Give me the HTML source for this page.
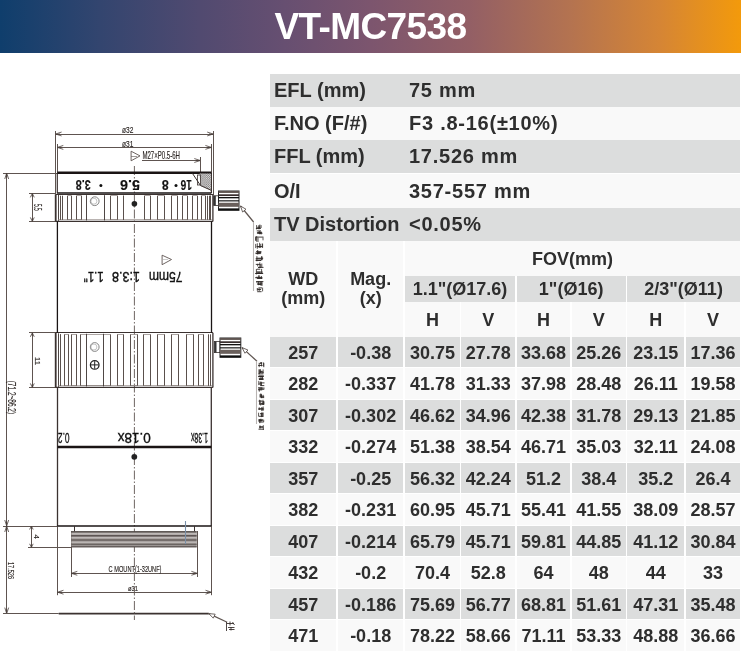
<!DOCTYPE html>
<html><head><meta charset="utf-8"><style>
html,body{margin:0;padding:0;background:#fff;width:742px;height:652px;overflow:hidden;position:relative}
body{font-family:"Liberation Sans",sans-serif;color:#2e2e2e;-webkit-font-smoothing:antialiased}
.wrap{position:absolute;left:0;top:0;width:742px;height:652px;will-change:transform}
.hd{position:absolute;left:0;top:0;width:741px;height:52.5px;background:linear-gradient(90deg,#0f3e6c 0%,#33456f 13.5%,#514a70 27%,#674f71 38.5%,#7c556e 50%,#935f65 63.4%,#b47350 77%,#d58535 89%,#f39a0b 100%)}
.title{position:absolute;left:274.5px;top:6px;font-weight:bold;font-size:37px;color:#fff;letter-spacing:-0.6px;white-space:nowrap}
.c{position:absolute;box-sizing:border-box;font-weight:bold;white-space:nowrap}
.t{text-align:center;font-size:18px;padding-top:1px}
.s{font-size:20px}
.s .k{position:absolute;left:4px}
.s .v{position:absolute;left:139px;letter-spacing:0.75px}
.hdr2{line-height:19.6px!important;padding-top:28.5px!important}
</style></head><body>
<div class="wrap"><div class="hd"></div><div class="title">VT-MC7538</div>
<div class="c s" style="left:270px;top:74px;width:470px;height:33px;background:#dcdddd;line-height:33px"><span class="k">EFL (mm)</span><span class="v">75 mm</span></div>
<div class="c s" style="left:270px;top:107px;width:470px;height:33.400000000000006px;background:#f9f9f9;line-height:33.400000000000006px"><span class="k">F.NO (F/#)</span><span class="v">F3 .8-16(±10%)</span></div>
<div class="c s" style="left:270px;top:140.4px;width:470px;height:33.099999999999994px;background:#dcdddd;line-height:33.099999999999994px"><span class="k">FFL (mm)</span><span class="v">17.526 mm</span></div>
<div class="c s" style="left:270px;top:173.5px;width:470px;height:34.5px;background:#f9f9f9;line-height:34.5px"><span class="k">O/I</span><span class="v">357-557 mm</span></div>
<div class="c s" style="left:270px;top:208px;width:470px;height:33.19999999999999px;background:#dcdddd;line-height:33.19999999999999px"><span class="k">TV Distortion</span><span class="v">&lt;0.05%</span></div>
<div class="c t hdr2" style="left:270px;top:241.2px;width:66.30000000000001px;height:95.69999999999999px;background:#f9f9f9;line-height:95.69999999999999px">WD<br>(mm)</div>
<div class="c t hdr2" style="left:337.9px;top:241.2px;width:65.5px;height:95.69999999999999px;background:#f9f9f9;line-height:95.69999999999999px">Mag.<br>(x)</div>
<div class="c t" style="left:405.0px;top:241.2px;width:335.0px;height:34.80000000000001px;background:#f9f9f9;line-height:34.80000000000001px">FOV(mm)</div>
<div class="c t" style="left:405.0px;top:276px;width:110.10000000000002px;height:25.5px;background:#dcdddd;line-height:25.5px">1.1"(Ø17.6)</div>
<div class="c t" style="left:516.7px;top:276px;width:108.89999999999998px;height:25.5px;background:#dcdddd;line-height:25.5px">1"(Ø16)</div>
<div class="c t" style="left:627.2px;top:276px;width:112.79999999999995px;height:25.5px;background:#dcdddd;line-height:25.5px">2/3"(Ø11)</div>
<div class="c t" style="left:405.0px;top:301.5px;width:54.80000000000001px;height:35.39999999999998px;background:#f9f9f9;line-height:35.39999999999998px">H</div>
<div class="c t" style="left:461.4px;top:301.5px;width:53.700000000000045px;height:35.39999999999998px;background:#f9f9f9;line-height:35.39999999999998px">V</div>
<div class="c t" style="left:516.7px;top:301.5px;width:53.5px;height:35.39999999999998px;background:#f9f9f9;line-height:35.39999999999998px">H</div>
<div class="c t" style="left:571.8px;top:301.5px;width:53.80000000000007px;height:35.39999999999998px;background:#f9f9f9;line-height:35.39999999999998px">V</div>
<div class="c t" style="left:627.2px;top:301.5px;width:57.09999999999991px;height:35.39999999999998px;background:#f9f9f9;line-height:35.39999999999998px">H</div>
<div class="c t" style="left:685.9px;top:301.5px;width:54.10000000000002px;height:35.39999999999998px;background:#f9f9f9;line-height:35.39999999999998px">V</div>
<div class="c t" style="left:270px;top:336.9px;width:66.30000000000001px;height:30.600000000000023px;background:#dcdddd;line-height:30.600000000000023px">257</div>
<div class="c t" style="left:337.9px;top:336.9px;width:65.5px;height:30.600000000000023px;background:#dcdddd;line-height:30.600000000000023px">-0.38</div>
<div class="c t" style="left:405.0px;top:336.9px;width:54.80000000000001px;height:30.600000000000023px;background:#dcdddd;line-height:30.600000000000023px">30.75</div>
<div class="c t" style="left:461.4px;top:336.9px;width:53.700000000000045px;height:30.600000000000023px;background:#dcdddd;line-height:30.600000000000023px">27.78</div>
<div class="c t" style="left:516.7px;top:336.9px;width:53.5px;height:30.600000000000023px;background:#dcdddd;line-height:30.600000000000023px">33.68</div>
<div class="c t" style="left:571.8px;top:336.9px;width:53.80000000000007px;height:30.600000000000023px;background:#dcdddd;line-height:30.600000000000023px">25.26</div>
<div class="c t" style="left:627.2px;top:336.9px;width:57.09999999999991px;height:30.600000000000023px;background:#dcdddd;line-height:30.600000000000023px">23.15</div>
<div class="c t" style="left:685.9px;top:336.9px;width:54.10000000000002px;height:30.600000000000023px;background:#dcdddd;line-height:30.600000000000023px">17.36</div>
<div class="c t" style="left:270px;top:368.38px;width:66.30000000000001px;height:30.600000000000023px;background:#f9f9f9;line-height:30.600000000000023px">282</div>
<div class="c t" style="left:337.9px;top:368.38px;width:65.5px;height:30.600000000000023px;background:#f9f9f9;line-height:30.600000000000023px">-0.337</div>
<div class="c t" style="left:405.0px;top:368.38px;width:54.80000000000001px;height:30.600000000000023px;background:#f9f9f9;line-height:30.600000000000023px">41.78</div>
<div class="c t" style="left:461.4px;top:368.38px;width:53.700000000000045px;height:30.600000000000023px;background:#f9f9f9;line-height:30.600000000000023px">31.33</div>
<div class="c t" style="left:516.7px;top:368.38px;width:53.5px;height:30.600000000000023px;background:#f9f9f9;line-height:30.600000000000023px">37.98</div>
<div class="c t" style="left:571.8px;top:368.38px;width:53.80000000000007px;height:30.600000000000023px;background:#f9f9f9;line-height:30.600000000000023px">28.48</div>
<div class="c t" style="left:627.2px;top:368.38px;width:57.09999999999991px;height:30.600000000000023px;background:#f9f9f9;line-height:30.600000000000023px">26.11</div>
<div class="c t" style="left:685.9px;top:368.38px;width:54.10000000000002px;height:30.600000000000023px;background:#f9f9f9;line-height:30.600000000000023px">19.58</div>
<div class="c t" style="left:270px;top:399.85px;width:66.30000000000001px;height:30.599999999999966px;background:#dcdddd;line-height:30.599999999999966px">307</div>
<div class="c t" style="left:337.9px;top:399.85px;width:65.5px;height:30.599999999999966px;background:#dcdddd;line-height:30.599999999999966px">-0.302</div>
<div class="c t" style="left:405.0px;top:399.85px;width:54.80000000000001px;height:30.599999999999966px;background:#dcdddd;line-height:30.599999999999966px">46.62</div>
<div class="c t" style="left:461.4px;top:399.85px;width:53.700000000000045px;height:30.599999999999966px;background:#dcdddd;line-height:30.599999999999966px">34.96</div>
<div class="c t" style="left:516.7px;top:399.85px;width:53.5px;height:30.599999999999966px;background:#dcdddd;line-height:30.599999999999966px">42.38</div>
<div class="c t" style="left:571.8px;top:399.85px;width:53.80000000000007px;height:30.599999999999966px;background:#dcdddd;line-height:30.599999999999966px">31.78</div>
<div class="c t" style="left:627.2px;top:399.85px;width:57.09999999999991px;height:30.599999999999966px;background:#dcdddd;line-height:30.599999999999966px">29.13</div>
<div class="c t" style="left:685.9px;top:399.85px;width:54.10000000000002px;height:30.599999999999966px;background:#dcdddd;line-height:30.599999999999966px">21.85</div>
<div class="c t" style="left:270px;top:431.32px;width:66.30000000000001px;height:30.610000000000014px;background:#f9f9f9;line-height:30.610000000000014px">332</div>
<div class="c t" style="left:337.9px;top:431.32px;width:65.5px;height:30.610000000000014px;background:#f9f9f9;line-height:30.610000000000014px">-0.274</div>
<div class="c t" style="left:405.0px;top:431.32px;width:54.80000000000001px;height:30.610000000000014px;background:#f9f9f9;line-height:30.610000000000014px">51.38</div>
<div class="c t" style="left:461.4px;top:431.32px;width:53.700000000000045px;height:30.610000000000014px;background:#f9f9f9;line-height:30.610000000000014px">38.54</div>
<div class="c t" style="left:516.7px;top:431.32px;width:53.5px;height:30.610000000000014px;background:#f9f9f9;line-height:30.610000000000014px">46.71</div>
<div class="c t" style="left:571.8px;top:431.32px;width:53.80000000000007px;height:30.610000000000014px;background:#f9f9f9;line-height:30.610000000000014px">35.03</div>
<div class="c t" style="left:627.2px;top:431.32px;width:57.09999999999991px;height:30.610000000000014px;background:#f9f9f9;line-height:30.610000000000014px">32.11</div>
<div class="c t" style="left:685.9px;top:431.32px;width:54.10000000000002px;height:30.610000000000014px;background:#f9f9f9;line-height:30.610000000000014px">24.08</div>
<div class="c t" style="left:270px;top:462.8px;width:66.30000000000001px;height:30.599999999999966px;background:#dcdddd;line-height:30.599999999999966px">357</div>
<div class="c t" style="left:337.9px;top:462.8px;width:65.5px;height:30.599999999999966px;background:#dcdddd;line-height:30.599999999999966px">-0.25</div>
<div class="c t" style="left:405.0px;top:462.8px;width:54.80000000000001px;height:30.599999999999966px;background:#dcdddd;line-height:30.599999999999966px">56.32</div>
<div class="c t" style="left:461.4px;top:462.8px;width:53.700000000000045px;height:30.599999999999966px;background:#dcdddd;line-height:30.599999999999966px">42.24</div>
<div class="c t" style="left:516.7px;top:462.8px;width:53.5px;height:30.599999999999966px;background:#dcdddd;line-height:30.599999999999966px">51.2</div>
<div class="c t" style="left:571.8px;top:462.8px;width:53.80000000000007px;height:30.599999999999966px;background:#dcdddd;line-height:30.599999999999966px">38.4</div>
<div class="c t" style="left:627.2px;top:462.8px;width:57.09999999999991px;height:30.599999999999966px;background:#dcdddd;line-height:30.599999999999966px">35.2</div>
<div class="c t" style="left:685.9px;top:462.8px;width:54.10000000000002px;height:30.599999999999966px;background:#dcdddd;line-height:30.599999999999966px">26.4</div>
<div class="c t" style="left:270px;top:494.27px;width:66.30000000000001px;height:30.610000000000014px;background:#f9f9f9;line-height:30.610000000000014px">382</div>
<div class="c t" style="left:337.9px;top:494.27px;width:65.5px;height:30.610000000000014px;background:#f9f9f9;line-height:30.610000000000014px">-0.231</div>
<div class="c t" style="left:405.0px;top:494.27px;width:54.80000000000001px;height:30.610000000000014px;background:#f9f9f9;line-height:30.610000000000014px">60.95</div>
<div class="c t" style="left:461.4px;top:494.27px;width:53.700000000000045px;height:30.610000000000014px;background:#f9f9f9;line-height:30.610000000000014px">45.71</div>
<div class="c t" style="left:516.7px;top:494.27px;width:53.5px;height:30.610000000000014px;background:#f9f9f9;line-height:30.610000000000014px">55.41</div>
<div class="c t" style="left:571.8px;top:494.27px;width:53.80000000000007px;height:30.610000000000014px;background:#f9f9f9;line-height:30.610000000000014px">41.55</div>
<div class="c t" style="left:627.2px;top:494.27px;width:57.09999999999991px;height:30.610000000000014px;background:#f9f9f9;line-height:30.610000000000014px">38.09</div>
<div class="c t" style="left:685.9px;top:494.27px;width:54.10000000000002px;height:30.610000000000014px;background:#f9f9f9;line-height:30.610000000000014px">28.57</div>
<div class="c t" style="left:270px;top:525.75px;width:66.30000000000001px;height:30.600000000000023px;background:#dcdddd;line-height:30.600000000000023px">407</div>
<div class="c t" style="left:337.9px;top:525.75px;width:65.5px;height:30.600000000000023px;background:#dcdddd;line-height:30.600000000000023px">-0.214</div>
<div class="c t" style="left:405.0px;top:525.75px;width:54.80000000000001px;height:30.600000000000023px;background:#dcdddd;line-height:30.600000000000023px">65.79</div>
<div class="c t" style="left:461.4px;top:525.75px;width:53.700000000000045px;height:30.600000000000023px;background:#dcdddd;line-height:30.600000000000023px">45.71</div>
<div class="c t" style="left:516.7px;top:525.75px;width:53.5px;height:30.600000000000023px;background:#dcdddd;line-height:30.600000000000023px">59.81</div>
<div class="c t" style="left:571.8px;top:525.75px;width:53.80000000000007px;height:30.600000000000023px;background:#dcdddd;line-height:30.600000000000023px">44.85</div>
<div class="c t" style="left:627.2px;top:525.75px;width:57.09999999999991px;height:30.600000000000023px;background:#dcdddd;line-height:30.600000000000023px">41.12</div>
<div class="c t" style="left:685.9px;top:525.75px;width:54.10000000000002px;height:30.600000000000023px;background:#dcdddd;line-height:30.600000000000023px">30.84</div>
<div class="c t" style="left:270px;top:557.23px;width:66.30000000000001px;height:30.600000000000023px;background:#f9f9f9;line-height:30.600000000000023px">432</div>
<div class="c t" style="left:337.9px;top:557.23px;width:65.5px;height:30.600000000000023px;background:#f9f9f9;line-height:30.600000000000023px">-0.2</div>
<div class="c t" style="left:405.0px;top:557.23px;width:54.80000000000001px;height:30.600000000000023px;background:#f9f9f9;line-height:30.600000000000023px">70.4</div>
<div class="c t" style="left:461.4px;top:557.23px;width:53.700000000000045px;height:30.600000000000023px;background:#f9f9f9;line-height:30.600000000000023px">52.8</div>
<div class="c t" style="left:516.7px;top:557.23px;width:53.5px;height:30.600000000000023px;background:#f9f9f9;line-height:30.600000000000023px">64</div>
<div class="c t" style="left:571.8px;top:557.23px;width:53.80000000000007px;height:30.600000000000023px;background:#f9f9f9;line-height:30.600000000000023px">48</div>
<div class="c t" style="left:627.2px;top:557.23px;width:57.09999999999991px;height:30.600000000000023px;background:#f9f9f9;line-height:30.600000000000023px">44</div>
<div class="c t" style="left:685.9px;top:557.23px;width:54.10000000000002px;height:30.600000000000023px;background:#f9f9f9;line-height:30.600000000000023px">33</div>
<div class="c t" style="left:270px;top:588.7px;width:66.30000000000001px;height:30.59999999999991px;background:#dcdddd;line-height:30.59999999999991px">457</div>
<div class="c t" style="left:337.9px;top:588.7px;width:65.5px;height:30.59999999999991px;background:#dcdddd;line-height:30.59999999999991px">-0.186</div>
<div class="c t" style="left:405.0px;top:588.7px;width:54.80000000000001px;height:30.59999999999991px;background:#dcdddd;line-height:30.59999999999991px">75.69</div>
<div class="c t" style="left:461.4px;top:588.7px;width:53.700000000000045px;height:30.59999999999991px;background:#dcdddd;line-height:30.59999999999991px">56.77</div>
<div class="c t" style="left:516.7px;top:588.7px;width:53.5px;height:30.59999999999991px;background:#dcdddd;line-height:30.59999999999991px">68.81</div>
<div class="c t" style="left:571.8px;top:588.7px;width:53.80000000000007px;height:30.59999999999991px;background:#dcdddd;line-height:30.59999999999991px">51.61</div>
<div class="c t" style="left:627.2px;top:588.7px;width:57.09999999999991px;height:30.59999999999991px;background:#dcdddd;line-height:30.59999999999991px">47.31</div>
<div class="c t" style="left:685.9px;top:588.7px;width:54.10000000000002px;height:30.59999999999991px;background:#dcdddd;line-height:30.59999999999991px">35.48</div>
<div class="c t" style="left:270px;top:620.17px;width:66.30000000000001px;height:30.600000000000023px;background:#f9f9f9;line-height:30.600000000000023px">471</div>
<div class="c t" style="left:337.9px;top:620.17px;width:65.5px;height:30.600000000000023px;background:#f9f9f9;line-height:30.600000000000023px">-0.18</div>
<div class="c t" style="left:405.0px;top:620.17px;width:54.80000000000001px;height:30.600000000000023px;background:#f9f9f9;line-height:30.600000000000023px">78.22</div>
<div class="c t" style="left:461.4px;top:620.17px;width:53.700000000000045px;height:30.600000000000023px;background:#f9f9f9;line-height:30.600000000000023px">58.66</div>
<div class="c t" style="left:516.7px;top:620.17px;width:53.5px;height:30.600000000000023px;background:#f9f9f9;line-height:30.600000000000023px">71.11</div>
<div class="c t" style="left:571.8px;top:620.17px;width:53.80000000000007px;height:30.600000000000023px;background:#f9f9f9;line-height:30.600000000000023px">53.33</div>
<div class="c t" style="left:627.2px;top:620.17px;width:57.09999999999991px;height:30.600000000000023px;background:#f9f9f9;line-height:30.600000000000023px">48.88</div>
<div class="c t" style="left:685.9px;top:620.17px;width:54.10000000000002px;height:30.600000000000023px;background:#f9f9f9;line-height:30.600000000000023px">36.66</div>
<svg style="position:absolute;left:0;top:0" width="270" height="652" viewBox="0 0 270 652"><line x1="55.5" y1="131" x2="55.5" y2="194" stroke="#5e5450" stroke-width="1" /><line x1="213.5" y1="131" x2="213.5" y2="195" stroke="#5e5450" stroke-width="1" /><line x1="55.6" y1="134.5" x2="213.2" y2="134.5" stroke="#5e5450" stroke-width="1" /><polyline points="61.60,132.05 55.6,134 61.60,135.95" fill="none" stroke="#4a403c" stroke-width="0.8"/><polygon points="59.80,133.40 55.6,134 59.80,134.60" fill="#4a403c"/><polyline points="207.20,135.95 213.2,134 207.20,132.05" fill="none" stroke="#4a403c" stroke-width="0.8"/><polygon points="209.00,134.60 213.2,134 209.00,133.40" fill="#4a403c"/><text x="127.65" y="133.00" font-family="Liberation Sans" font-size="9.08" font-weight="normal" fill="#2a2422" text-anchor="middle" textLength="11.30" lengthAdjust="spacingAndGlyphs" stroke="#2a2422" stroke-width="0.15">ø32</text><line x1="57.5" y1="144" x2="57.5" y2="173" stroke="#5e5450" stroke-width="1" /><line x1="211.5" y1="144" x2="211.5" y2="173" stroke="#5e5450" stroke-width="1" /><line x1="57.3" y1="147.5" x2="211.4" y2="147.5" stroke="#5e5450" stroke-width="1" /><polyline points="63.30,145.45 57.3,147.4 63.30,149.35" fill="none" stroke="#4a403c" stroke-width="0.8"/><polygon points="61.50,146.80 57.3,147.4 61.50,148.00" fill="#4a403c"/><polyline points="205.40,149.35 211.4,147.4 205.40,145.45" fill="none" stroke="#4a403c" stroke-width="0.8"/><polygon points="207.20,148.00 211.4,147.4 207.20,146.80" fill="#4a403c"/><text x="127.65" y="146.70" font-family="Liberation Sans" font-size="8.24" font-weight="normal" fill="#2a2422" text-anchor="middle" textLength="11.30" lengthAdjust="spacingAndGlyphs" stroke="#2a2422" stroke-width="0.15">ø31</text><polygon points="131.1,151.2 131.1,160.8 140,155.9" fill="none" stroke="#5e5450" stroke-width="0.9"/><line x1="131.1" y1="156.5" x2="137" y2="156.5" stroke="#5e5450" stroke-width="0.6" /><text x="161.20" y="159.30" font-family="Liberation Sans" font-size="10.75" font-weight="normal" fill="#2a2422" text-anchor="middle" textLength="37.60" lengthAdjust="spacingAndGlyphs" stroke="#2a2422" stroke-width="0.15">M27×P0.5-6H</text><line x1="142" y1="160.5" x2="200.3" y2="160.5" stroke="#5e5450" stroke-width="1" /><polyline points="194.30,162.45 200.3,160.5 194.30,158.55" fill="none" stroke="#4a403c" stroke-width="0.8"/><polygon points="196.10,161.10 200.3,160.5 196.10,159.90" fill="#4a403c"/><line x1="200.5" y1="157" x2="200.5" y2="173" stroke="#5e5450" stroke-width="1" /><line x1="3" y1="173.5" x2="57" y2="173.5" stroke="#5e5450" stroke-width="1" /><line x1="3" y1="526.5" x2="57" y2="526.5" stroke="#5e5450" stroke-width="1" /><line x1="6.5" y1="173" x2="6.5" y2="613.6" stroke="#5e5450" stroke-width="1" /><polyline points="8.65,179.00 6.7,173 4.75,179.00" fill="none" stroke="#4a403c" stroke-width="0.8"/><polygon points="7.30,177.20 6.7,173 6.10,177.20" fill="#4a403c"/><polyline points="4.75,520.00 6.7,526 8.65,520.00" fill="none" stroke="#4a403c" stroke-width="0.8"/><polygon points="6.10,521.80 6.7,526 7.30,521.80" fill="#4a403c"/><polyline points="8.65,532.00 6.7,526 4.75,532.00" fill="none" stroke="#4a403c" stroke-width="0.8"/><polygon points="7.30,530.20 6.7,526 6.10,530.20" fill="#4a403c"/><polyline points="4.75,607.60 6.7,613.6 8.65,607.60" fill="none" stroke="#4a403c" stroke-width="0.8"/><polygon points="6.10,609.40 6.7,613.6 7.30,609.40" fill="#4a403c"/><text x="11.85" y="401.25" font-family="Liberation Sans" font-size="10.75" font-weight="normal" fill="#2a2422" text-anchor="middle" textLength="33.40" lengthAdjust="spacingAndGlyphs" transform="rotate(90 11.85 397.40)" stroke="#2a2422" stroke-width="0.15">(71.2~86.2)</text><text x="11.40" y="574.00" font-family="Liberation Sans" font-size="9.78" font-weight="normal" fill="#2a2422" text-anchor="middle" textLength="17.00" lengthAdjust="spacingAndGlyphs" transform="rotate(90 11.40 570.50)" stroke="#2a2422" stroke-width="0.15">17.526</text><line x1="29" y1="193.5" x2="56" y2="193.5" stroke="#5e5450" stroke-width="1" /><line x1="29" y1="221.5" x2="56" y2="221.5" stroke="#5e5450" stroke-width="1" /><line x1="32.5" y1="193.4" x2="32.5" y2="221.4" stroke="#5e5450" stroke-width="1" /><polyline points="34.25,197.40 32.3,193.4 30.35,197.40" fill="none" stroke="#4a403c" stroke-width="0.8"/><polygon points="32.90,196.20 32.3,193.4 31.70,196.20" fill="#4a403c"/><polyline points="30.35,217.40 32.3,221.4 34.25,217.40" fill="none" stroke="#4a403c" stroke-width="0.8"/><polygon points="31.70,218.60 32.3,221.4 32.90,218.60" fill="#4a403c"/><text x="37.20" y="210.95" font-family="Liberation Sans" font-size="10.06" font-weight="normal" fill="#2a2422" text-anchor="middle" textLength="6.70" lengthAdjust="spacingAndGlyphs" transform="rotate(90 37.20 207.35)" stroke="#2a2422" stroke-width="0.15">5.5</text><line x1="29" y1="332.5" x2="56" y2="332.5" stroke="#5e5450" stroke-width="1" /><line x1="29" y1="387.5" x2="56" y2="387.5" stroke="#5e5450" stroke-width="1" /><line x1="32.5" y1="332.8" x2="32.5" y2="387.4" stroke="#5e5450" stroke-width="1" /><polyline points="34.25,336.80 32.3,332.8 30.35,336.80" fill="none" stroke="#4a403c" stroke-width="0.8"/><polygon points="32.90,335.60 32.3,332.8 31.70,335.60" fill="#4a403c"/><polyline points="30.35,383.40 32.3,387.4 34.25,383.40" fill="none" stroke="#4a403c" stroke-width="0.8"/><polygon points="31.70,384.60 32.3,387.4 32.90,384.60" fill="#4a403c"/><text x="37.25" y="363.75" font-family="Liberation Sans" font-size="7.68" font-weight="normal" fill="#2a2422" text-anchor="middle" textLength="8.00" lengthAdjust="spacingAndGlyphs" transform="rotate(90 37.25 361.00)" stroke="#2a2422" stroke-width="0.15">11</text><line x1="28" y1="547.5" x2="72" y2="547.5" stroke="#5e5450" stroke-width="1" /><line x1="31.5" y1="526" x2="31.5" y2="547.3" stroke="#5e5450" stroke-width="1" /><polyline points="33.20,529.50 31.4,526 29.60,529.50" fill="none" stroke="#4a403c" stroke-width="0.8"/><polygon points="32.00,528.45 31.4,526 30.80,528.45" fill="#4a403c"/><polyline points="29.60,543.80 31.4,547.3 33.20,543.80" fill="none" stroke="#4a403c" stroke-width="0.8"/><polygon points="30.80,544.85 31.4,547.3 32.00,544.85" fill="#4a403c"/><text x="36.25" y="539.00" font-family="Liberation Sans" font-size="6.28" font-weight="normal" fill="#2a2422" text-anchor="middle" textLength="4.50" lengthAdjust="spacingAndGlyphs" transform="rotate(90 36.25 536.75)" stroke="#2a2422" stroke-width="0.15">4</text><line x1="71.5" y1="531" x2="71.5" y2="577" stroke="#5e5450" stroke-width="1" /><line x1="197.5" y1="531" x2="197.5" y2="577" stroke="#5e5450" stroke-width="1" /><line x1="71.3" y1="573.5" x2="197.4" y2="573.5" stroke="#5e5450" stroke-width="1" /><polyline points="77.30,571.35 71.3,573.3 77.30,575.25" fill="none" stroke="#4a403c" stroke-width="0.8"/><polygon points="75.50,572.70 71.3,573.3 75.50,573.90" fill="#4a403c"/><polyline points="191.40,575.25 197.4,573.3 191.40,571.35" fill="none" stroke="#4a403c" stroke-width="0.8"/><polygon points="193.20,573.90 197.4,573.3 193.20,572.70" fill="#4a403c"/><text x="135.05" y="572.40" font-family="Liberation Sans" font-size="9.78" font-weight="normal" fill="#2a2422" text-anchor="middle" textLength="52.90" lengthAdjust="spacingAndGlyphs" stroke="#2a2422" stroke-width="0.15">C MOUNT(1-32UNF)</text><line x1="57.5" y1="526" x2="57.5" y2="595.2" stroke="#5e5450" stroke-width="1" /><line x1="211.5" y1="526" x2="211.5" y2="595.2" stroke="#5e5450" stroke-width="1" /><line x1="57.5" y1="592.5" x2="211.5" y2="592.5" stroke="#5e5450" stroke-width="1" /><polyline points="63.50,590.25 57.5,592.2 63.50,594.15" fill="none" stroke="#4a403c" stroke-width="0.8"/><polygon points="61.70,591.60 57.5,592.2 61.70,592.80" fill="#4a403c"/><polyline points="205.50,594.15 211.5,592.2 205.50,590.25" fill="none" stroke="#4a403c" stroke-width="0.8"/><polygon points="207.30,592.80 211.5,592.2 207.30,591.60" fill="#4a403c"/><text x="133.00" y="590.80" font-family="Liberation Sans" font-size="7.82" font-weight="normal" fill="#2a2422" text-anchor="middle" textLength="10.00" lengthAdjust="spacingAndGlyphs" stroke="#2a2422" stroke-width="0.15">ø31</text><line x1="3" y1="613.5" x2="58.7" y2="613.5" stroke="#5e5450" stroke-width="1" /><line x1="58.7" y1="613.6" x2="208.8" y2="613.6" stroke="#3b3230" stroke-width="1.8" /><line x1="208.8" y1="613.6" x2="227.2" y2="622.3" stroke="#5e5450" stroke-width="1.2" /><polygon points="215.16,614.19 208.8,613.6 213.27,618.17" fill="#fff" stroke="#4a403c" stroke-width="0.8"/><path d="M226.5,622 V631 M227,623.5 H234 M230,621.5 V625.5 M232.5,622 L234.5,625 M228,627.5 H234.5 M229,629.5 H234.5 M231,627 V630.5" stroke="#3a3230" stroke-width="0.9" fill="none"/><line x1="134.4" y1="166" x2="134.4" y2="620" stroke="#5e5450" stroke-width="0.9" stroke-dasharray="9 2 1.5 2"/><line x1="57.3" y1="173" x2="57.3" y2="193.5" stroke="#3b3230" stroke-width="1.2" /><line x1="211.4" y1="173" x2="211.4" y2="193" stroke="#3b3230" stroke-width="1.2" /><line x1="57.3" y1="172.8" x2="211.4" y2="172.8" stroke="#1a1414" stroke-width="2.4" /><line x1="57.3" y1="193" x2="211.4" y2="193" stroke="#1a1414" stroke-width="1.6" /><defs><pattern id="hatch" width="2.2" height="2.2" patternUnits="userSpaceOnUse"><rect width="2.2" height="2.2" fill="#e8e4e4"/><rect width="1.1" height="1.1" fill="#777"/><rect x="1.1" y="1.1" width="1.1" height="1.1" fill="#777"/></pattern></defs><polygon points="199.5,173.5 211,173.5 211,190.5 200.5,186" fill="url(#hatch)"/><polyline points="192.5,173.5 200.5,185.5 211,190.2" fill="none" stroke="#3b3230" stroke-width="1"/><rect x="197.5" y="175" width="3" height="10" fill="none" stroke="#3b3230" stroke-width="0.8"/><text x="83.25" y="190.70" font-family="Liberation Sans" font-size="14.94" font-weight="bold" fill="#111" text-anchor="middle" textLength="15.10" lengthAdjust="spacingAndGlyphs" transform="rotate(180 83.25 185.35)" stroke="#2a2422" stroke-width="0.15">3.8</text><text x="129.95" y="190.70" font-family="Liberation Sans" font-size="14.94" font-weight="bold" fill="#111" text-anchor="middle" textLength="20.10" lengthAdjust="spacingAndGlyphs" transform="rotate(180 129.95 185.35)" stroke="#2a2422" stroke-width="0.15">5.6</text><text x="165.25" y="190.70" font-family="Liberation Sans" font-size="14.94" font-weight="bold" fill="#111" text-anchor="middle" textLength="6.90" lengthAdjust="spacingAndGlyphs" transform="rotate(180 165.25 185.35)" stroke="#2a2422" stroke-width="0.15">8</text><text x="186.30" y="190.70" font-family="Liberation Sans" font-size="14.94" font-weight="bold" fill="#111" text-anchor="middle" textLength="11.40" lengthAdjust="spacingAndGlyphs" transform="rotate(180 186.30 185.35)" stroke="#2a2422" stroke-width="0.15">16</text><circle cx="100.9" cy="185.6" r="1.5" fill="#111"/><circle cx="176" cy="185.6" r="1.5" fill="#111"/><line x1="55.7" y1="194.2" x2="55.7" y2="221.4" stroke="#3b3230" stroke-width="1.8" /><line x1="58.5" y1="194.7" x2="58.5" y2="220.9" stroke="#3b3230" stroke-width="0.9" /><line x1="212.9" y1="194.2" x2="212.9" y2="221.4" stroke="#3b3230" stroke-width="1.3" /><line x1="55.7" y1="194.5" x2="212.9" y2="194.5" stroke="#3b3230" stroke-width="1.1" /><line x1="55.7" y1="221.4" x2="212.9" y2="221.4" stroke="#3b3230" stroke-width="1.4" /><line x1="58" y1="219.5" x2="212" y2="219.5" stroke="#8a807c" stroke-width="0.6" /><line x1="60.5" y1="195.7" x2="60.5" y2="219.9" stroke="#5a504c" stroke-width="1" /><line x1="62.5" y1="195.7" x2="62.5" y2="219.9" stroke="#5a504c" stroke-width="1" /><line x1="67.5" y1="195.7" x2="67.5" y2="219.9" stroke="#5a504c" stroke-width="1" /><line x1="71.5" y1="195.7" x2="71.5" y2="219.9" stroke="#5a504c" stroke-width="1" /><line x1="67.5" y1="195.5" x2="71.5" y2="195.5" stroke="#8a807c" stroke-width="0.7" /><line x1="67.5" y1="219.5" x2="71.5" y2="219.5" stroke="#8a807c" stroke-width="0.7" /><line x1="76.5" y1="195.7" x2="76.5" y2="219.9" stroke="#5a504c" stroke-width="1" /><line x1="81.5" y1="195.7" x2="81.5" y2="219.9" stroke="#5a504c" stroke-width="1" /><line x1="76.5" y1="195.5" x2="81.5" y2="195.5" stroke="#8a807c" stroke-width="0.7" /><line x1="76.5" y1="219.5" x2="81.5" y2="219.5" stroke="#8a807c" stroke-width="0.7" /><line x1="110.5" y1="195.7" x2="110.5" y2="219.9" stroke="#5a504c" stroke-width="1" /><line x1="117.5" y1="195.7" x2="117.5" y2="219.9" stroke="#5a504c" stroke-width="1" /><line x1="110.5" y1="195.5" x2="117.5" y2="195.5" stroke="#8a807c" stroke-width="0.7" /><line x1="110.5" y1="219.5" x2="117.5" y2="219.5" stroke="#8a807c" stroke-width="0.7" /><line x1="123.5" y1="195.7" x2="123.5" y2="219.9" stroke="#5a504c" stroke-width="1" /><line x1="123.5" y1="195.7" x2="123.5" y2="219.9" stroke="#5a504c" stroke-width="1" /><line x1="144.5" y1="195.7" x2="144.5" y2="219.9" stroke="#5a504c" stroke-width="1" /><line x1="150.5" y1="195.7" x2="150.5" y2="219.9" stroke="#5a504c" stroke-width="1" /><line x1="144.5" y1="195.5" x2="150.5" y2="195.5" stroke="#8a807c" stroke-width="0.7" /><line x1="144.5" y1="219.5" x2="150.5" y2="219.5" stroke="#8a807c" stroke-width="0.7" /><line x1="157.5" y1="195.7" x2="157.5" y2="219.9" stroke="#5a504c" stroke-width="1" /><line x1="164.5" y1="195.7" x2="164.5" y2="219.9" stroke="#5a504c" stroke-width="1" /><line x1="157.5" y1="195.5" x2="164.5" y2="195.5" stroke="#8a807c" stroke-width="0.7" /><line x1="157.5" y1="219.5" x2="164.5" y2="219.5" stroke="#8a807c" stroke-width="0.7" /><line x1="171.5" y1="195.7" x2="171.5" y2="219.9" stroke="#5a504c" stroke-width="1" /><line x1="177.5" y1="195.7" x2="177.5" y2="219.9" stroke="#5a504c" stroke-width="1" /><line x1="171.5" y1="195.5" x2="177.5" y2="195.5" stroke="#8a807c" stroke-width="0.7" /><line x1="171.5" y1="219.5" x2="177.5" y2="219.5" stroke="#8a807c" stroke-width="0.7" /><line x1="182.5" y1="195.7" x2="182.5" y2="219.9" stroke="#5a504c" stroke-width="1" /><line x1="187.5" y1="195.7" x2="187.5" y2="219.9" stroke="#5a504c" stroke-width="1" /><line x1="182.5" y1="195.5" x2="187.5" y2="195.5" stroke="#8a807c" stroke-width="0.7" /><line x1="182.5" y1="219.5" x2="187.5" y2="219.5" stroke="#8a807c" stroke-width="0.7" /><line x1="192.5" y1="195.7" x2="192.5" y2="219.9" stroke="#5a504c" stroke-width="1" /><line x1="197.5" y1="195.7" x2="197.5" y2="219.9" stroke="#5a504c" stroke-width="1" /><line x1="192.5" y1="195.5" x2="197.5" y2="195.5" stroke="#8a807c" stroke-width="0.7" /><line x1="192.5" y1="219.5" x2="197.5" y2="219.5" stroke="#8a807c" stroke-width="0.7" /><line x1="201.5" y1="195.7" x2="201.5" y2="219.9" stroke="#5a504c" stroke-width="1" /><line x1="205.5" y1="195.7" x2="205.5" y2="219.9" stroke="#5a504c" stroke-width="1" /><line x1="201.5" y1="195.5" x2="205.5" y2="195.5" stroke="#8a807c" stroke-width="0.7" /><line x1="201.5" y1="219.5" x2="205.5" y2="219.5" stroke="#8a807c" stroke-width="0.7" /><line x1="207.5" y1="195.7" x2="207.5" y2="219.9" stroke="#5a504c" stroke-width="1" /><line x1="209.5" y1="195.7" x2="209.5" y2="219.9" stroke="#5a504c" stroke-width="1" /><line x1="210.5" y1="195.7" x2="210.5" y2="219.9" stroke="#5a504c" stroke-width="1" /><line x1="210.5" y1="195.7" x2="210.5" y2="219.9" stroke="#5a504c" stroke-width="1" /><line x1="86.5" y1="195.2" x2="86.5" y2="220.4" stroke="#3b3230" stroke-width="0.9" /><line x1="104.5" y1="195.2" x2="104.5" y2="220.4" stroke="#3b3230" stroke-width="0.9" /><line x1="55.7" y1="332.8" x2="55.7" y2="387.4" stroke="#3b3230" stroke-width="1.8" /><line x1="58.5" y1="333.3" x2="58.5" y2="386.9" stroke="#3b3230" stroke-width="0.9" /><line x1="212.9" y1="332.8" x2="212.9" y2="387.4" stroke="#3b3230" stroke-width="1.3" /><line x1="55.7" y1="332.5" x2="212.9" y2="332.5" stroke="#3b3230" stroke-width="1.1" /><line x1="55.7" y1="387.4" x2="212.9" y2="387.4" stroke="#3b3230" stroke-width="1.4" /><line x1="58" y1="385.5" x2="212" y2="385.5" stroke="#8a807c" stroke-width="0.6" /><line x1="208.5" y1="334.3" x2="208.5" y2="385.9" stroke="#5a504c" stroke-width="1" /><line x1="210.5" y1="334.3" x2="210.5" y2="385.9" stroke="#5a504c" stroke-width="1" /><line x1="198.5" y1="334.3" x2="198.5" y2="385.9" stroke="#5a504c" stroke-width="1" /><line x1="203.5" y1="334.3" x2="203.5" y2="385.9" stroke="#5a504c" stroke-width="1" /><line x1="198.5" y1="334.5" x2="203.5" y2="334.5" stroke="#8a807c" stroke-width="0.7" /><line x1="198.5" y1="385.5" x2="203.5" y2="385.5" stroke="#8a807c" stroke-width="0.7" /><line x1="186.5" y1="334.3" x2="186.5" y2="385.9" stroke="#5a504c" stroke-width="1" /><line x1="193.5" y1="334.3" x2="193.5" y2="385.9" stroke="#5a504c" stroke-width="1" /><line x1="186.5" y1="334.5" x2="193.5" y2="334.5" stroke="#8a807c" stroke-width="0.7" /><line x1="186.5" y1="385.5" x2="193.5" y2="385.5" stroke="#8a807c" stroke-width="0.7" /><line x1="171.5" y1="334.3" x2="171.5" y2="385.9" stroke="#5a504c" stroke-width="1" /><line x1="178.5" y1="334.3" x2="178.5" y2="385.9" stroke="#5a504c" stroke-width="1" /><line x1="171.5" y1="334.5" x2="178.5" y2="334.5" stroke="#8a807c" stroke-width="0.7" /><line x1="171.5" y1="385.5" x2="178.5" y2="385.5" stroke="#8a807c" stroke-width="0.7" /><line x1="157.5" y1="334.3" x2="157.5" y2="385.9" stroke="#5a504c" stroke-width="1" /><line x1="164.5" y1="334.3" x2="164.5" y2="385.9" stroke="#5a504c" stroke-width="1" /><line x1="157.5" y1="334.5" x2="164.5" y2="334.5" stroke="#8a807c" stroke-width="0.7" /><line x1="157.5" y1="385.5" x2="164.5" y2="385.5" stroke="#8a807c" stroke-width="0.7" /><line x1="143.5" y1="334.3" x2="143.5" y2="385.9" stroke="#5a504c" stroke-width="1" /><line x1="150.5" y1="334.3" x2="150.5" y2="385.9" stroke="#5a504c" stroke-width="1" /><line x1="143.5" y1="334.5" x2="150.5" y2="334.5" stroke="#8a807c" stroke-width="0.7" /><line x1="143.5" y1="385.5" x2="150.5" y2="385.5" stroke="#8a807c" stroke-width="0.7" /><line x1="130.5" y1="334.3" x2="130.5" y2="385.9" stroke="#5a504c" stroke-width="1" /><line x1="137.5" y1="334.3" x2="137.5" y2="385.9" stroke="#5a504c" stroke-width="1" /><line x1="130.5" y1="334.5" x2="137.5" y2="334.5" stroke="#8a807c" stroke-width="0.7" /><line x1="130.5" y1="385.5" x2="137.5" y2="385.5" stroke="#8a807c" stroke-width="0.7" /><line x1="117.5" y1="334.3" x2="117.5" y2="385.9" stroke="#5a504c" stroke-width="1" /><line x1="123.5" y1="334.3" x2="123.5" y2="385.9" stroke="#5a504c" stroke-width="1" /><line x1="117.5" y1="334.5" x2="123.5" y2="334.5" stroke="#8a807c" stroke-width="0.7" /><line x1="117.5" y1="385.5" x2="123.5" y2="385.5" stroke="#8a807c" stroke-width="0.7" /><line x1="80.5" y1="334.3" x2="80.5" y2="385.9" stroke="#5a504c" stroke-width="1" /><line x1="110.5" y1="334.3" x2="110.5" y2="385.9" stroke="#5a504c" stroke-width="1" /><line x1="80.5" y1="334.5" x2="110.5" y2="334.5" stroke="#8a807c" stroke-width="0.7" /><line x1="80.5" y1="385.5" x2="110.5" y2="385.5" stroke="#8a807c" stroke-width="0.7" /><line x1="71.5" y1="334.3" x2="71.5" y2="385.9" stroke="#5a504c" stroke-width="1" /><line x1="76.5" y1="334.3" x2="76.5" y2="385.9" stroke="#5a504c" stroke-width="1" /><line x1="71.5" y1="334.5" x2="76.5" y2="334.5" stroke="#8a807c" stroke-width="0.7" /><line x1="71.5" y1="385.5" x2="76.5" y2="385.5" stroke="#8a807c" stroke-width="0.7" /><line x1="64.5" y1="334.3" x2="64.5" y2="385.9" stroke="#5a504c" stroke-width="1" /><line x1="68.5" y1="334.3" x2="68.5" y2="385.9" stroke="#5a504c" stroke-width="1" /><line x1="64.5" y1="334.5" x2="68.5" y2="334.5" stroke="#8a807c" stroke-width="0.7" /><line x1="64.5" y1="385.5" x2="68.5" y2="385.5" stroke="#8a807c" stroke-width="0.7" /><line x1="60.5" y1="334.3" x2="60.5" y2="385.9" stroke="#5a504c" stroke-width="1" /><line x1="60.5" y1="334.3" x2="60.5" y2="385.9" stroke="#5a504c" stroke-width="1" /><line x1="86.5" y1="333.8" x2="86.5" y2="386.4" stroke="#3b3230" stroke-width="0.9" /><line x1="103.5" y1="333.8" x2="103.5" y2="386.4" stroke="#3b3230" stroke-width="0.9" /><circle cx="94.7" cy="201.2" r="4.4" fill="none" stroke="#777" stroke-width="0.9"/><circle cx="93.9" cy="201.2" r="3" fill="none" stroke="#aaa" stroke-width="0.7"/><circle cx="134.4" cy="203.7" r="2.8" fill="#222"/><circle cx="94.7" cy="347" r="4.4" fill="none" stroke="#777" stroke-width="0.9"/><circle cx="93.9" cy="347" r="3" fill="none" stroke="#aaa" stroke-width="0.7"/><circle cx="94.7" cy="364.9" r="4.3" fill="none" stroke="#222" stroke-width="1.3"/><line x1="91" y1="364.9" x2="98.4" y2="364.9" stroke="#222" stroke-width="1"/><line x1="94.7" y1="361.2" x2="94.7" y2="368.6" stroke="#222" stroke-width="1"/><rect x="213.6" y="195.8" width="4.900000000000006" height="9.699999999999989" fill="#fff" stroke="#3b3230" stroke-width="0.8"/><rect x="213.6" y="195.8" width="2.2" height="9.699999999999989" fill="#333"/><rect x="218.5" y="191" width="20.5" height="19.30000000000001" fill="#fff" stroke="#222" stroke-width="1"/><rect x="218.5" y="191.0" width="20.5" height="1.9300000000000013" fill="#5e5450"/><rect x="218.5" y="194.281" width="20.5" height="1.737000000000001" fill="#3a3030"/><rect x="218.5" y="196.983" width="20.5" height="1.3510000000000009" fill="#111"/><rect x="218.5" y="200.264" width="20.5" height="1.1580000000000017" fill="#111"/><rect x="218.5" y="202.773" width="20.5" height="4.053000000000002" fill="#6a605c"/><rect x="218.5" y="208.37" width="20.5" height="1.9300000000000006" fill="#111"/><rect x="214.3" y="341.5" width="5.699999999999989" height="11.100000000000023" fill="#fff" stroke="#3b3230" stroke-width="0.8"/><rect x="214.3" y="341.5" width="2.2" height="11.100000000000023" fill="#333"/><rect x="220" y="338" width="20.80000000000001" height="19.30000000000001" fill="#fff" stroke="#222" stroke-width="1"/><rect x="220" y="338.0" width="20.80000000000001" height="1.9300000000000013" fill="#5e5450"/><rect x="220" y="341.281" width="20.80000000000001" height="1.737000000000001" fill="#3a3030"/><rect x="220" y="343.983" width="20.80000000000001" height="1.3510000000000009" fill="#111"/><rect x="220" y="347.264" width="20.80000000000001" height="1.1580000000000017" fill="#111"/><rect x="220" y="349.773" width="20.80000000000001" height="4.053000000000002" fill="#6a605c"/><rect x="220" y="355.37" width="20.80000000000001" height="1.9300000000000006" fill="#111"/><line x1="240.5" y1="206" x2="253.6" y2="222" stroke="#5e5450" stroke-width="1.2" /><polygon points="246.00,209.25 240.5,206 242.60,212.04" fill="#fff" stroke="#4a403c" stroke-width="0.8"/><line x1="253.5" y1="222" x2="253.5" y2="291" stroke="#b8b4b2" stroke-width="1.1" /><line x1="242" y1="347.6" x2="257" y2="361.2" stroke="#5e5450" stroke-width="1.2" /><polygon points="247.92,350.00 242,347.6 244.97,353.26" fill="#fff" stroke="#4a403c" stroke-width="0.8"/><line x1="256.5" y1="361" x2="256.5" y2="424" stroke="#b8b4b2" stroke-width="1.1" /><line x1="257.1" y1="227.3" x2="260.3" y2="227.3" stroke="#2e2826" stroke-width="0.9"/><line x1="255.9" y1="228.5" x2="260.9" y2="228.5" stroke="#2e2826" stroke-width="0.9"/><line x1="259.0" y1="225.4" x2="259.0" y2="228.7" stroke="#2e2826" stroke-width="0.8"/><line x1="256.6" y1="225.1" x2="256.6" y2="229.4" stroke="#2e2826" stroke-width="0.8"/><line x1="261.1" y1="225.1" x2="261.1" y2="228.0" stroke="#2e2826" stroke-width="0.8"/><line x1="259.9" y1="224.5" x2="259.9" y2="228.0" stroke="#2e2826" stroke-width="0.8"/><line x1="259.0" y1="225.2" x2="259.0" y2="229.4" stroke="#2e2826" stroke-width="0.8"/><line x1="259.8" y1="231.8" x2="259.8" y2="234.0" stroke="#2e2826" stroke-width="0.8"/><line x1="256.7" y1="230.9" x2="261.0" y2="230.9" stroke="#2e2826" stroke-width="0.9"/><line x1="261.3" y1="231.6" x2="261.3" y2="234.4" stroke="#2e2826" stroke-width="0.8"/><line x1="259.8" y1="231.2" x2="259.8" y2="234.3" stroke="#2e2826" stroke-width="0.8"/><line x1="258.1" y1="232.1" x2="260.2" y2="232.1" stroke="#2e2826" stroke-width="0.9"/><line x1="257.4" y1="233.2" x2="262.5" y2="233.2" stroke="#2e2826" stroke-width="0.9"/><line x1="256.9" y1="233.0" x2="260.5" y2="233.0" stroke="#2e2826" stroke-width="0.9"/><line x1="260.2" y1="231.8" x2="260.2" y2="234.1" stroke="#2e2826" stroke-width="0.8"/><line x1="257.2" y1="232.7" x2="261.7" y2="232.7" stroke="#2e2826" stroke-width="0.9"/><line x1="256.0" y1="237.1" x2="262.7" y2="237.1" stroke="#2e2826" stroke-width="0.9"/><line x1="255.8" y1="237.1" x2="255.8" y2="240.3" stroke="#2e2826" stroke-width="0.8"/><line x1="258.0" y1="237.6" x2="258.0" y2="242.0" stroke="#2e2826" stroke-width="0.8"/><line x1="263.0" y1="236.6" x2="263.0" y2="240.3" stroke="#2e2826" stroke-width="0.8"/><line x1="255.7" y1="236.4" x2="255.7" y2="240.9" stroke="#2e2826" stroke-width="0.8"/><line x1="256.7" y1="236.1" x2="256.7" y2="241.8" stroke="#2e2826" stroke-width="0.8"/><line x1="262.2" y1="243.5" x2="262.2" y2="247.8" stroke="#2e2826" stroke-width="0.8"/><line x1="260.3" y1="243.9" x2="260.3" y2="248.0" stroke="#2e2826" stroke-width="0.8"/><line x1="262.6" y1="243.7" x2="262.6" y2="247.8" stroke="#2e2826" stroke-width="0.8"/><line x1="257.3" y1="243.3" x2="257.3" y2="248.8" stroke="#2e2826" stroke-width="0.8"/><line x1="259.6" y1="242.8" x2="259.6" y2="247.7" stroke="#2e2826" stroke-width="0.8"/><line x1="255.7" y1="243.9" x2="255.7" y2="248.1" stroke="#2e2826" stroke-width="0.8"/><line x1="256.6" y1="246.5" x2="262.4" y2="246.5" stroke="#2e2826" stroke-width="0.9"/><line x1="257.5" y1="246.9" x2="260.2" y2="246.9" stroke="#2e2826" stroke-width="0.9"/><line x1="257.4" y1="250.3" x2="257.4" y2="254.2" stroke="#2e2826" stroke-width="0.8"/><line x1="256.1" y1="251.6" x2="261.4" y2="251.6" stroke="#2e2826" stroke-width="0.9"/><line x1="257.8" y1="250.2" x2="257.8" y2="254.4" stroke="#2e2826" stroke-width="0.8"/><line x1="257.5" y1="252.5" x2="261.2" y2="252.5" stroke="#2e2826" stroke-width="0.9"/><line x1="255.8" y1="253.6" x2="260.7" y2="253.6" stroke="#2e2826" stroke-width="0.9"/><line x1="255.3" y1="253.1" x2="261.2" y2="253.1" stroke="#2e2826" stroke-width="0.9"/><line x1="255.6" y1="260.5" x2="261.2" y2="260.5" stroke="#2e2826" stroke-width="0.9"/><line x1="262.1" y1="256.4" x2="262.1" y2="260.2" stroke="#2e2826" stroke-width="0.8"/><line x1="255.6" y1="258.8" x2="262.8" y2="258.8" stroke="#2e2826" stroke-width="0.9"/><line x1="256.9" y1="256.1" x2="256.9" y2="261.3" stroke="#2e2826" stroke-width="0.8"/><line x1="261.5" y1="256.2" x2="261.5" y2="260.0" stroke="#2e2826" stroke-width="0.8"/><line x1="255.9" y1="260.2" x2="261.3" y2="260.2" stroke="#2e2826" stroke-width="0.9"/><line x1="256.4" y1="258.2" x2="263.2" y2="258.2" stroke="#2e2826" stroke-width="0.9"/><line x1="258.0" y1="267.4" x2="263.5" y2="267.4" stroke="#2e2826" stroke-width="0.9"/><line x1="258.2" y1="267.5" x2="260.9" y2="267.5" stroke="#2e2826" stroke-width="0.9"/><line x1="261.8" y1="263.5" x2="261.8" y2="267.2" stroke="#2e2826" stroke-width="0.8"/><line x1="255.8" y1="264.4" x2="260.3" y2="264.4" stroke="#2e2826" stroke-width="0.9"/><line x1="257.7" y1="263.8" x2="257.7" y2="266.4" stroke="#2e2826" stroke-width="0.8"/><line x1="260.7" y1="264.0" x2="260.7" y2="267.8" stroke="#2e2826" stroke-width="0.8"/><line x1="259.8" y1="262.4" x2="259.8" y2="267.6" stroke="#2e2826" stroke-width="0.8"/><line x1="256.8" y1="269.2" x2="260.3" y2="269.2" stroke="#2e2826" stroke-width="0.9"/><line x1="256.4" y1="269.0" x2="256.4" y2="274.4" stroke="#2e2826" stroke-width="0.8"/><line x1="261.6" y1="268.9" x2="261.6" y2="273.1" stroke="#2e2826" stroke-width="0.8"/><line x1="255.4" y1="273.5" x2="260.9" y2="273.5" stroke="#2e2826" stroke-width="0.9"/><line x1="255.4" y1="273.5" x2="263.2" y2="273.5" stroke="#2e2826" stroke-width="0.9"/><line x1="256.4" y1="272.0" x2="262.7" y2="272.0" stroke="#2e2826" stroke-width="0.9"/><line x1="256.8" y1="272.2" x2="260.3" y2="272.2" stroke="#2e2826" stroke-width="0.9"/><line x1="257.9" y1="273.2" x2="262.7" y2="273.2" stroke="#2e2826" stroke-width="0.9"/><line x1="255.1" y1="277.7" x2="262.5" y2="277.7" stroke="#2e2826" stroke-width="0.9"/><line x1="259.2" y1="275.4" x2="259.2" y2="279.0" stroke="#2e2826" stroke-width="0.8"/><line x1="256.0" y1="277.3" x2="261.0" y2="277.3" stroke="#2e2826" stroke-width="0.9"/><line x1="258.7" y1="275.4" x2="258.7" y2="278.8" stroke="#2e2826" stroke-width="0.8"/><line x1="261.5" y1="276.1" x2="261.5" y2="278.9" stroke="#2e2826" stroke-width="0.8"/><line x1="256.8" y1="278.5" x2="262.3" y2="278.5" stroke="#2e2826" stroke-width="0.9"/><line x1="257.6" y1="284.4" x2="261.2" y2="284.4" stroke="#2e2826" stroke-width="0.9"/><line x1="258.6" y1="281.2" x2="258.6" y2="285.2" stroke="#2e2826" stroke-width="0.8"/><line x1="257.7" y1="284.2" x2="260.9" y2="284.2" stroke="#2e2826" stroke-width="0.9"/><line x1="256.1" y1="281.6" x2="263.4" y2="281.6" stroke="#2e2826" stroke-width="0.9"/><line x1="262.0" y1="281.4" x2="262.0" y2="285.9" stroke="#2e2826" stroke-width="0.8"/><line x1="261.0" y1="282.5" x2="261.0" y2="285.7" stroke="#2e2826" stroke-width="0.8"/><line x1="256.1" y1="282.0" x2="261.9" y2="282.0" stroke="#2e2826" stroke-width="0.9"/><line x1="260.9" y1="281.9" x2="260.9" y2="285.2" stroke="#2e2826" stroke-width="0.8"/><line x1="256.9" y1="283.9" x2="262.3" y2="283.9" stroke="#2e2826" stroke-width="0.9"/><line x1="258.1" y1="288.4" x2="258.1" y2="290.6" stroke="#2e2826" stroke-width="0.8"/><line x1="257.4" y1="289.5" x2="261.1" y2="289.5" stroke="#2e2826" stroke-width="0.9"/><line x1="258.4" y1="287.9" x2="262.0" y2="287.9" stroke="#2e2826" stroke-width="0.9"/><line x1="257.3" y1="288.0" x2="257.3" y2="290.7" stroke="#2e2826" stroke-width="0.8"/><line x1="259.6" y1="288.5" x2="259.6" y2="290.8" stroke="#2e2826" stroke-width="0.8"/><line x1="257.2" y1="291.7" x2="261.6" y2="291.7" stroke="#2e2826" stroke-width="0.9"/><line x1="262.6" y1="287.6" x2="262.6" y2="291.4" stroke="#2e2826" stroke-width="0.8"/><line x1="260.2" y1="362.6" x2="262.2" y2="362.6" stroke="#2e2826" stroke-width="0.9"/><line x1="263.6" y1="362.4" x2="263.6" y2="366.4" stroke="#2e2826" stroke-width="0.8"/><line x1="259.5" y1="363.6" x2="262.1" y2="363.6" stroke="#2e2826" stroke-width="0.9"/><line x1="263.8" y1="363.1" x2="263.8" y2="367.2" stroke="#2e2826" stroke-width="0.8"/><line x1="258.1" y1="365.5" x2="262.5" y2="365.5" stroke="#2e2826" stroke-width="0.9"/><line x1="259.2" y1="362.8" x2="259.2" y2="367.2" stroke="#2e2826" stroke-width="0.8"/><line x1="261.6" y1="363.2" x2="261.6" y2="366.4" stroke="#2e2826" stroke-width="0.8"/><line x1="259.5" y1="372.7" x2="263.6" y2="372.7" stroke="#2e2826" stroke-width="0.9"/><line x1="260.1" y1="371.8" x2="263.2" y2="371.8" stroke="#2e2826" stroke-width="0.9"/><line x1="260.5" y1="369.2" x2="260.5" y2="373.0" stroke="#2e2826" stroke-width="0.8"/><line x1="259.0" y1="369.3" x2="259.0" y2="373.6" stroke="#2e2826" stroke-width="0.8"/><line x1="259.6" y1="371.3" x2="262.2" y2="371.3" stroke="#2e2826" stroke-width="0.9"/><line x1="259.4" y1="369.4" x2="259.4" y2="374.3" stroke="#2e2826" stroke-width="0.8"/><line x1="258.2" y1="373.9" x2="263.4" y2="373.9" stroke="#2e2826" stroke-width="0.9"/><line x1="263.1" y1="369.4" x2="263.1" y2="373.3" stroke="#2e2826" stroke-width="0.8"/><line x1="258.7" y1="375.9" x2="263.8" y2="375.9" stroke="#2e2826" stroke-width="0.9"/><line x1="258.8" y1="378.6" x2="263.5" y2="378.6" stroke="#2e2826" stroke-width="0.9"/><line x1="261.0" y1="376.2" x2="261.0" y2="379.8" stroke="#2e2826" stroke-width="0.8"/><line x1="258.9" y1="379.5" x2="263.6" y2="379.5" stroke="#2e2826" stroke-width="0.9"/><line x1="258.8" y1="376.4" x2="263.9" y2="376.4" stroke="#2e2826" stroke-width="0.9"/><line x1="259.3" y1="379.4" x2="262.4" y2="379.4" stroke="#2e2826" stroke-width="0.9"/><line x1="258.4" y1="376.7" x2="263.1" y2="376.7" stroke="#2e2826" stroke-width="0.9"/><line x1="262.5" y1="376.6" x2="262.5" y2="379.5" stroke="#2e2826" stroke-width="0.8"/><line x1="258.2" y1="376.5" x2="262.4" y2="376.5" stroke="#2e2826" stroke-width="0.9"/><line x1="258.7" y1="384.0" x2="262.0" y2="384.0" stroke="#2e2826" stroke-width="0.9"/><line x1="259.5" y1="382.9" x2="264.5" y2="382.9" stroke="#2e2826" stroke-width="0.9"/><line x1="261.4" y1="381.8" x2="261.4" y2="385.9" stroke="#2e2826" stroke-width="0.8"/><line x1="260.1" y1="385.6" x2="264.3" y2="385.6" stroke="#2e2826" stroke-width="0.9"/><line x1="260.7" y1="381.5" x2="260.7" y2="384.9" stroke="#2e2826" stroke-width="0.8"/><line x1="258.8" y1="380.9" x2="258.8" y2="385.1" stroke="#2e2826" stroke-width="0.8"/><line x1="258.0" y1="387.8" x2="262.4" y2="387.8" stroke="#2e2826" stroke-width="0.9"/><line x1="258.1" y1="389.3" x2="264.3" y2="389.3" stroke="#2e2826" stroke-width="0.9"/><line x1="259.3" y1="387.6" x2="259.3" y2="391.7" stroke="#2e2826" stroke-width="0.8"/><line x1="260.2" y1="388.1" x2="264.6" y2="388.1" stroke="#2e2826" stroke-width="0.9"/><line x1="258.2" y1="389.9" x2="262.2" y2="389.9" stroke="#2e2826" stroke-width="0.9"/><line x1="260.2" y1="388.8" x2="262.4" y2="388.8" stroke="#2e2826" stroke-width="0.9"/><line x1="261.5" y1="393.8" x2="261.5" y2="398.1" stroke="#2e2826" stroke-width="0.8"/><line x1="260.6" y1="396.3" x2="264.2" y2="396.3" stroke="#2e2826" stroke-width="0.9"/><line x1="260.0" y1="394.2" x2="260.0" y2="397.5" stroke="#2e2826" stroke-width="0.8"/><line x1="261.5" y1="394.8" x2="261.5" y2="397.8" stroke="#2e2826" stroke-width="0.8"/><line x1="260.6" y1="397.6" x2="264.2" y2="397.6" stroke="#2e2826" stroke-width="0.9"/><line x1="263.1" y1="394.8" x2="263.1" y2="397.6" stroke="#2e2826" stroke-width="0.8"/><line x1="260.5" y1="393.6" x2="260.5" y2="397.3" stroke="#2e2826" stroke-width="0.8"/><line x1="260.5" y1="403.6" x2="263.1" y2="403.6" stroke="#2e2826" stroke-width="0.9"/><line x1="264.0" y1="401.3" x2="264.0" y2="404.5" stroke="#2e2826" stroke-width="0.8"/><line x1="258.5" y1="401.1" x2="262.5" y2="401.1" stroke="#2e2826" stroke-width="0.9"/><line x1="263.5" y1="401.1" x2="263.5" y2="404.7" stroke="#2e2826" stroke-width="0.8"/><line x1="263.0" y1="399.8" x2="263.0" y2="405.0" stroke="#2e2826" stroke-width="0.8"/><line x1="262.9" y1="401.0" x2="262.9" y2="404.7" stroke="#2e2826" stroke-width="0.8"/><line x1="258.9" y1="404.2" x2="264.1" y2="404.2" stroke="#2e2826" stroke-width="0.9"/><line x1="260.7" y1="400.3" x2="260.7" y2="405.5" stroke="#2e2826" stroke-width="0.8"/><line x1="259.5" y1="399.8" x2="259.5" y2="404.1" stroke="#2e2826" stroke-width="0.8"/><line x1="261.8" y1="407.1" x2="261.8" y2="411.1" stroke="#2e2826" stroke-width="0.8"/><line x1="258.1" y1="409.0" x2="264.1" y2="409.0" stroke="#2e2826" stroke-width="0.9"/><line x1="259.1" y1="407.5" x2="259.1" y2="410.0" stroke="#2e2826" stroke-width="0.8"/><line x1="259.6" y1="407.7" x2="259.6" y2="409.8" stroke="#2e2826" stroke-width="0.8"/><line x1="260.0" y1="408.8" x2="262.8" y2="408.8" stroke="#2e2826" stroke-width="0.9"/><line x1="263.2" y1="406.5" x2="263.2" y2="410.8" stroke="#2e2826" stroke-width="0.8"/><line x1="262.2" y1="407.6" x2="262.2" y2="410.5" stroke="#2e2826" stroke-width="0.8"/><line x1="258.6" y1="412.7" x2="258.6" y2="416.2" stroke="#2e2826" stroke-width="0.8"/><line x1="258.5" y1="416.3" x2="263.2" y2="416.3" stroke="#2e2826" stroke-width="0.9"/><line x1="261.6" y1="412.5" x2="261.6" y2="416.8" stroke="#2e2826" stroke-width="0.8"/><line x1="262.9" y1="412.2" x2="262.9" y2="416.9" stroke="#2e2826" stroke-width="0.8"/><line x1="260.0" y1="413.7" x2="263.3" y2="413.7" stroke="#2e2826" stroke-width="0.9"/><line x1="262.8" y1="413.5" x2="262.8" y2="416.7" stroke="#2e2826" stroke-width="0.8"/><line x1="261.3" y1="412.9" x2="261.3" y2="417.1" stroke="#2e2826" stroke-width="0.8"/><line x1="259.9" y1="419.2" x2="259.9" y2="423.0" stroke="#2e2826" stroke-width="0.8"/><line x1="263.7" y1="419.7" x2="263.7" y2="422.1" stroke="#2e2826" stroke-width="0.8"/><line x1="259.0" y1="420.4" x2="262.8" y2="420.4" stroke="#2e2826" stroke-width="0.9"/><line x1="260.9" y1="418.7" x2="260.9" y2="422.2" stroke="#2e2826" stroke-width="0.8"/><line x1="260.5" y1="422.0" x2="263.7" y2="422.0" stroke="#2e2826" stroke-width="0.9"/><line x1="258.4" y1="419.8" x2="263.2" y2="419.8" stroke="#2e2826" stroke-width="0.9"/><line x1="259.0" y1="419.7" x2="259.0" y2="422.0" stroke="#2e2826" stroke-width="0.8"/><line x1="259.8" y1="419.4" x2="259.8" y2="423.2" stroke="#2e2826" stroke-width="0.8"/><line x1="258.9" y1="420.5" x2="262.2" y2="420.5" stroke="#2e2826" stroke-width="0.9"/><line x1="259.9" y1="426.8" x2="263.0" y2="426.8" stroke="#2e2826" stroke-width="0.9"/><line x1="260.2" y1="425.7" x2="260.2" y2="428.4" stroke="#2e2826" stroke-width="0.8"/><line x1="259.8" y1="425.6" x2="259.8" y2="428.4" stroke="#2e2826" stroke-width="0.8"/><line x1="258.5" y1="429.2" x2="264.0" y2="429.2" stroke="#2e2826" stroke-width="0.9"/><line x1="263.3" y1="425.2" x2="263.3" y2="429.9" stroke="#2e2826" stroke-width="0.8"/><line x1="259.4" y1="427.2" x2="263.3" y2="427.2" stroke="#2e2826" stroke-width="0.9"/><line x1="57.4" y1="221.4" x2="57.4" y2="332.8" stroke="#1a1414" stroke-width="1.3" /><line x1="211.5" y1="221.4" x2="211.5" y2="332.8" stroke="#1a1414" stroke-width="1.3" /><line x1="57.5" y1="387.4" x2="57.5" y2="526" stroke="#3b3230" stroke-width="1.3" /><line x1="211.3" y1="387.4" x2="211.3" y2="526" stroke="#3b3230" stroke-width="1.3" /><line x1="57.5" y1="447" x2="211.3" y2="447" stroke="#1a1414" stroke-width="2.6" /><line x1="57.5" y1="526" x2="211.3" y2="526" stroke="#1a1414" stroke-width="1.5" /><polygon points="162.1,255.2 162.1,264.7 171.5,259.5" fill="none" stroke="#5e5450" stroke-width="0.9"/><line x1="162.1" y1="259.5" x2="168" y2="259.5" stroke="#aaa" stroke-width="0.6" /><text x="93.70" y="282.80" font-family="Liberation Sans" font-size="15.50" font-weight="normal" fill="#111" text-anchor="middle" textLength="20.00" lengthAdjust="spacingAndGlyphs" transform="rotate(180 93.70 277.25)" stroke="#111" stroke-width="0.4">1.1"</text><text x="125.95" y="282.80" font-family="Liberation Sans" font-size="15.50" font-weight="normal" fill="#111" text-anchor="middle" textLength="28.10" lengthAdjust="spacingAndGlyphs" transform="rotate(180 125.95 277.25)" stroke="#111" stroke-width="0.4">1:3.8</text><text x="165.75" y="282.80" font-family="Liberation Sans" font-size="15.50" font-weight="normal" fill="#111" text-anchor="middle" textLength="33.70" lengthAdjust="spacingAndGlyphs" transform="rotate(180 165.75 277.25)" stroke="#111" stroke-width="0.4">75mm</text><text x="63.75" y="443.00" font-family="Liberation Sans" font-size="14.53" font-weight="normal" fill="#111" text-anchor="middle" textLength="11.50" lengthAdjust="spacingAndGlyphs" transform="rotate(180 63.75 437.80)" stroke="#111" stroke-width="0.35">0.2</text><text x="134.20" y="443.00" font-family="Liberation Sans" font-size="14.53" font-weight="normal" fill="#111" text-anchor="middle" textLength="33.20" lengthAdjust="spacingAndGlyphs" transform="rotate(180 134.20 437.80)" stroke="#111" stroke-width="0.35">0.18x</text><text x="199.45" y="443.00" font-family="Liberation Sans" font-size="14.53" font-weight="normal" fill="#111" text-anchor="middle" textLength="17.10" lengthAdjust="spacingAndGlyphs" transform="rotate(180 199.45 437.80)" stroke="#111" stroke-width="0.35">1.38x</text><circle cx="134.3" cy="456.8" r="2.9" fill="#222"/><line x1="74.5" y1="526" x2="74.5" y2="531.5" stroke="#3b3230" stroke-width="1" /><line x1="194.5" y1="526" x2="194.5" y2="531.5" stroke="#3b3230" stroke-width="1" /><rect x="71.4" y="531.3" width="125.4" height="15.8" fill="#9a9492"/><line x1="71.4" y1="531.8" x2="196.7" y2="531.8" stroke="#3a3230" stroke-width="1.0"/><line x1="71.4" y1="533.9" x2="196.7" y2="533.9" stroke="#dcd8d6" stroke-width="0.9"/><line x1="71.4" y1="535.8" x2="196.7" y2="535.8" stroke="#3a3230" stroke-width="0.9"/><line x1="71.4" y1="537.8" x2="196.7" y2="537.8" stroke="#d4d0ce" stroke-width="0.9"/><line x1="71.4" y1="540.0" x2="196.7" y2="540.0" stroke="#4a4240" stroke-width="0.9"/><line x1="71.4" y1="542.2" x2="196.7" y2="542.2" stroke="#d0ccca" stroke-width="0.9"/><line x1="71.4" y1="544.3" x2="196.7" y2="544.3" stroke="#5a5250" stroke-width="0.9"/><line x1="71.4" y1="546.9" x2="196.7" y2="546.9" stroke="#3a3230" stroke-width="0.9"/><line x1="185.5" y1="521" x2="185.5" y2="544" stroke="#7a90a8" stroke-width="1.1" /></svg></div>
</body></html>
